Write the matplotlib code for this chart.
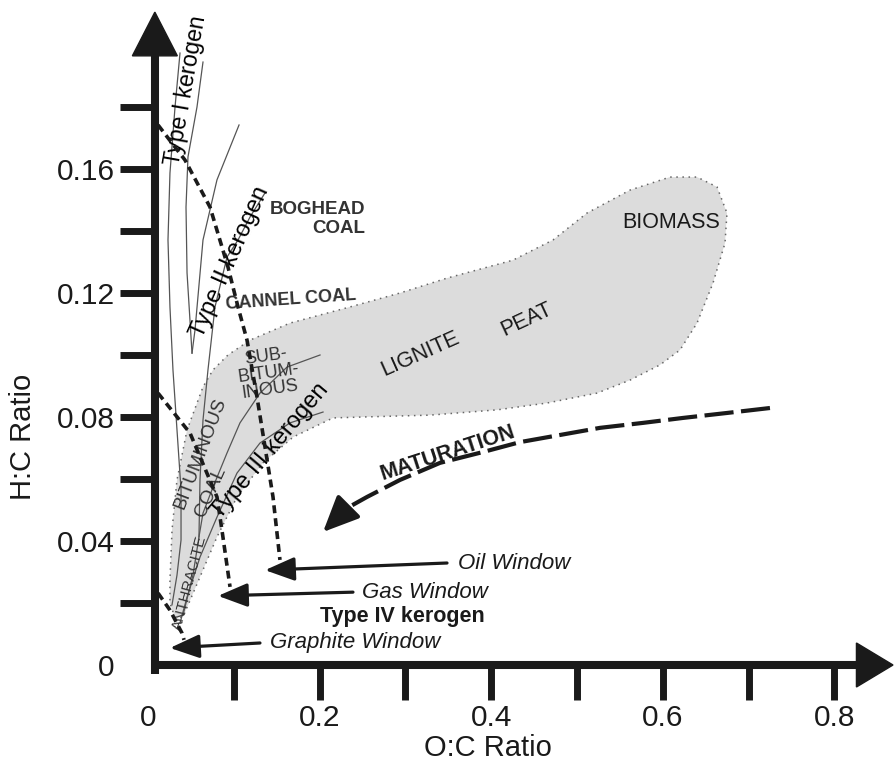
import numpy as np
import matplotlib.pyplot as plt
from matplotlib.patches import Polygon

plt.rcParams['font.family'] = ['Liberation Sans', 'DejaVu Sans']

INK = '#1a1a1a'
GREY_TXT = '#333333'

# ---- values (x = O:C ratio, y = H:C ratio) ----
x_major = [0, 0.2, 0.4, 0.6, 0.8]
x_minor = [0.1, 0.3, 0.5, 0.7]
y_major = [0, 0.04, 0.08, 0.12, 0.16]
y_minor = [0.02, 0.06, 0.10, 0.14, 0.18]

# grey coal / biomass field outline
band_oc = [0.0315, 0.0256, 0.0256, 0.0280, 0.0338, 0.0455, 0.0641, 0.0758, 0.0932, 0.1189,
           0.1655, 0.2354, 0.2937, 0.3485, 0.4254, 0.4720, 0.5117, 0.5618, 0.6084, 0.6399,
           0.6632, 0.6748, 0.6725, 0.6585, 0.6399, 0.6200, 0.5967, 0.5618, 0.5233, 0.4650,
           0.4068, 0.3287, 0.2506, 0.2156, 0.1690, 0.1340, 0.1037, 0.0804, 0.0606, 0.0408]
band_hc = [0.0152, 0.0200, 0.0274, 0.0435, 0.0597, 0.0758, 0.0897, 0.0952, 0.1000, 0.1048,
           0.1103, 0.1155, 0.1200, 0.1248, 0.1306, 0.1371, 0.1458, 0.1532, 0.1574, 0.1574,
           0.1542, 0.1458, 0.1361, 0.1232, 0.1103, 0.1016, 0.0968, 0.0919, 0.0877, 0.0845,
           0.0823, 0.0806, 0.0800, 0.0797, 0.0735, 0.0652, 0.0542, 0.0413, 0.0284, 0.0155]

# thin evolution paths
type1_a_oc = [0.0373, 0.0315, 0.0256, 0.0233, 0.0256, 0.0291, 0.0338, 0.0385, 0.0385, 0.0338, 0.0280]
type1_a_hc = [0.1974, 0.1800, 0.1587, 0.1371, 0.1155, 0.0952, 0.0758, 0.0565, 0.0403, 0.0290, 0.0194]
type1_b_oc = [0.0641, 0.0571, 0.0466, 0.0443, 0.0455, 0.0513]
type1_b_hc = [0.1945, 0.1800, 0.1639, 0.1477, 0.1265, 0.1006]
type2_a_oc = [0.0513, 0.0548, 0.0641, 0.0804, 0.1061]
type2_a_hc = [0.1006, 0.1081, 0.1371, 0.1565, 0.1742]
type2_b_oc = [0.1364, 0.1189, 0.1049, 0.0921, 0.0781, 0.0699, 0.0641, 0.0606, 0.0594, 0.0524, 0.0408]
type2_b_hc = [0.1523, 0.1445, 0.1371, 0.1316, 0.1155, 0.0952, 0.0790, 0.0597, 0.0413, 0.0290, 0.0161]
subbit_oc = [0.2005, 0.1620, 0.1305, 0.1072, 0.0921, 0.0758, 0.0641, 0.0594]
subbit_hc = [0.1000, 0.0961, 0.0877, 0.0781, 0.0684, 0.0574, 0.0490, 0.0413]
type3_oc = [0.2040, 0.1655, 0.1305, 0.1037, 0.0804, 0.0606, 0.0455, 0.0373]
type3_hc = [0.0816, 0.0781, 0.0716, 0.0619, 0.0477, 0.0348, 0.0219, 0.0135]

# dashed window boundaries
oil_oc = [0.0117, 0.0431, 0.0723, 0.0932, 0.1049, 0.1154, 0.1270, 0.1364, 0.1457, 0.1538]
oil_hc = [0.1742, 0.1629, 0.1477, 0.1284, 0.1155, 0.1048, 0.0865, 0.0703, 0.0542, 0.0339]
gas_oc = [0.0117, 0.0490, 0.0804, 0.0862, 0.0956]
gas_hc = [0.0877, 0.0748, 0.0542, 0.0435, 0.0252]
graph_oc = [0.0117, 0.0256, 0.0396, 0.0420]
graph_hc = [0.0232, 0.0177, 0.0103, 0.0081]

# maturation trend
mat_oc = [0.7249, 0.6748, 0.6235, 0.5769, 0.5268, 0.4802, 0.4336, 0.3904, 0.3403, 0.2937, 0.2552, 0.2319]
mat_hc = [0.0829, 0.0813, 0.0797, 0.0781, 0.0765, 0.0742, 0.0719, 0.0687, 0.0652, 0.0597, 0.0542, 0.0506]
mat_tip = (0.2040, 0.0429)

# window arrows
window_names = ['Oil Window', 'Gas Window', 'Graphite Window']
window_tail = [(0.3485, 0.0329), (0.2389, 0.0235), (0.1305, 0.0071)]
window_tip = [(0.1364, 0.0306), (0.0816, 0.0223), (0.0256, 0.0055)]
window_label_x = [0.3613, 0.2494, 0.1422]

fig = plt.figure(figsize=(8.95, 7.63), dpi=100)
ax = fig.add_axes([0, 0, 1, 1])
ax.set_xlim(-0.17249, 0.87063)
ax.set_ylim(-0.031613, 0.214516)
ax.patch.set_alpha(0)

# coal field
ax.fill(band_oc, band_hc, facecolor='#dcdcdc', edgecolor='none', zorder=1)
ax.plot(band_oc + band_oc[:1], band_hc + band_hc[:1], color='#666666',
        lw=1.1, ls=(0, (1, 3)), zorder=2)

for xs, ys in [(type1_a_oc, type1_a_hc), (type1_b_oc, type1_b_hc), (type2_a_oc, type2_a_hc),
               (type2_b_oc, type2_b_hc), (subbit_oc, subbit_hc), (type3_oc, type3_hc)]:
    ax.plot(xs, ys, color='#555555', lw=0.9, zorder=3)

for xs, ys in [(oil_oc, oil_hc), (gas_oc, gas_hc), (graph_oc, graph_hc)]:
    ax.plot(xs, ys, color=INK, lw=2.6, ls=(0, (2.2, 1.4)), zorder=4)

# maturation
ax.plot(mat_oc, mat_hc, color=INK, lw=3.0, ls=(0, (7, 1.8)), zorder=4)
ax.annotate('', xy=mat_tip, xytext=(mat_oc[-1], mat_hc[-1]),
            arrowprops=dict(arrowstyle='-|>,head_length=1.0,head_width=0.45', lw=3.0,
                            color=INK, shrinkA=0, shrinkB=0, mutation_scale=22), zorder=5)

for name, tail, tip, lx in zip(window_names, window_tail, window_tip, window_label_x):
    ax.annotate('', xy=tip, xytext=tail,
                arrowprops=dict(arrowstyle='-|>,head_length=1.0,head_width=0.4', lw=2.3,
                                color=INK, shrinkA=0, shrinkB=0, mutation_scale=18), zorder=5)
    ax.text(lx, tail[1], name, fontsize=16, style='italic', color=INK,
            ha='left', va='center', zorder=6)

ax.text(0.2960, 0.0155, 'Type IV kerogen', fontsize=15.5, weight='bold', color=INK,
        ha='center', va='center')

# region / path labels
ax.text(0.0443, 0.1852, 'Type I kerogen', fontsize=16.5, rotation=80, color='black',
        ha='center', va='center', rotation_mode='anchor')
ax.text(0.0956, 0.1300, 'Type II kerogen', fontsize=17, rotation=66, color='black',
        ha='center', va='center', rotation_mode='anchor')
ax.text(0.1422, 0.0690, 'Type III kerogen', fontsize=17, rotation=50, color='black',
        ha='center', va='center', rotation_mode='anchor')
ax.text(0.2529, 0.1439, 'BOGHEAD\nCOAL', fontsize=13.5, weight='bold', color=GREY_TXT,
        ha='right', va='center', multialignment='right', linespacing=1.2)
ax.text(0.1667, 0.1177, 'CANNEL COAL', fontsize=13, weight='bold', color=GREY_TXT,
        rotation=4, ha='center', va='center', rotation_mode='anchor')
ax.text(0.1399, 0.0942, 'SUB-\nBITUM-\nINOUS', fontsize=13, color=GREY_TXT, rotation=8,
        ha='center', va='center', multialignment='center', linespacing=1.0,
        rotation_mode='anchor')
ax.text(0.0606, 0.0684, 'BITUMINOUS', fontsize=13.5, color=GREY_TXT, rotation=69,
        ha='center', va='center', rotation_mode='anchor')
ax.text(0.0734, 0.0558, 'COAL', fontsize=14, color=GREY_TXT, rotation=66,
        ha='center', va='center', rotation_mode='anchor')
ax.text(0.0490, 0.0265, 'ANTHRACITE', fontsize=11, color=GREY_TXT, rotation=75,
        ha='center', va='center', rotation_mode='anchor')
ax.text(0.3170, 0.1003, 'LIGNITE', fontsize=15.5, color=INK, rotation=24,
        ha='center', va='center', rotation_mode='anchor')
ax.text(0.4417, 0.1113, 'PEAT', fontsize=15.5, color=INK, rotation=25,
        ha='center', va='center', rotation_mode='anchor')
ax.text(0.6096, 0.1429, 'BIOMASS', fontsize=15.5, color=INK, ha='center', va='center')
ax.text(0.3497, 0.0684, 'MATURATION', fontsize=15.5, weight='bold', color=INK, rotation=18,
        ha='center', va='center', rotation_mode='anchor')

# axes drawn as thick arrows
y_spine_x = 0.008
ax.spines[['top', 'right']].set_visible(False)
ax.spines['left'].set_position(('data', y_spine_x))
ax.spines['bottom'].set_position(('data', 0))
ax.spines['left'].set_bounds(-0.003, 0.1975)
ax.spines['bottom'].set_bounds(0.003, 0.827)
for s in ['left', 'bottom']:
    ax.spines[s].set_linewidth(5.8)
    ax.spines[s].set_color(INK)
    ax.spines[s].set_capstyle('butt')

ax.add_patch(Polygon([(y_spine_x - 0.0262, 0.1965), (y_spine_x + 0.0262, 0.1965),
                      (y_spine_x, 0.2106)], closed=True, color=INK, zorder=6, clip_on=False))
ax.add_patch(Polygon([(0.8257, -0.0071), (0.8257, 0.0071), (0.8683, 0.0)],
                     closed=True, color=INK, zorder=6, clip_on=False))

ax.set_xticks(x_major, labels=['0', '0.2', '0.4', '0.6', '0.8'])
ax.set_xticks(x_minor, minor=True)
ax.set_yticks(y_major, labels=['0', '0.04', '0.08', '0.12', '0.16'])
ax.set_yticks(y_minor, minor=True)
ax.tick_params(which='both', direction='out', length=25, width=5, color=INK,
               labelsize=21.5, labelcolor=INK)
ax.tick_params(axis='x', which='both', pad=3)
ax.tick_params(axis='y', which='both', pad=4)
ax.xaxis.get_major_ticks()[0].tick1line.set_visible(False)
ax.yaxis.get_major_ticks()[0].tick1line.set_visible(False)

ax.set_xlabel('O:C Ratio', fontsize=21, color=INK, va='center')
ax.xaxis.set_label_coords(0.545, 0.0197)
ax.set_ylabel('H:C Ratio', fontsize=21, color=INK, va='center')
ax.yaxis.set_label_coords(0.0257, 0.4273)

fig.savefig('out.png', dpi=100)
